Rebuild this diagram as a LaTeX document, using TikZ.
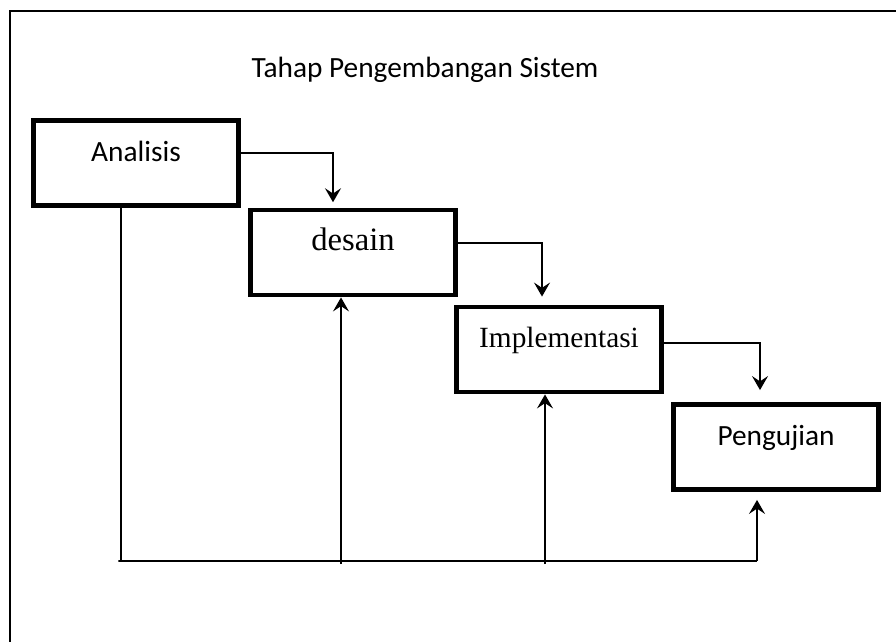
\documentclass[tikz,border=0pt]{standalone}
\usepackage{fontspec}
\setmainfont{Carlito}
\newfontfamily\timesface{Liberation Serif}
\usetikzlibrary{arrows.meta}

\begin{document}
\begin{tikzpicture}[x=0.75pt,y=-0.75pt,line cap=butt,>={Stealth[length=10.5pt,width=12pt,inset=4pt]},
	stage/.style={draw,line width=3.4pt,minimum width=154pt,minimum height=64pt,inner sep=0pt,
		text height=14pt,text depth=17pt,font=\fontsize{22}{26}\selectfont},
	flow/.style={line width=1.2pt}]
	\useasboundingbox (0,0) rectangle (896,642);
	\draw [line width=1.6pt] (10,642) -- (10,11) -- (896,11);
	
	\node [font=\fontsize{22}{26}\selectfont] (title) at (425,70) {Tahap Pengembangan Sistem};
	
	\node [stage] (analisis) at (136,163) {Analisis};
	\node [stage] (desain) at (353,252.5) {\fontsize{24.5}{28}\timesface desain};
	\node [stage] (implementasi) at (559,349.5) {\timesface Implementasi};
	\node [stage] (pengujian) at (776,447) {Pengujian};
	
	\draw [flow,->,shorten >=4pt] ([yshift=7.5pt]analisis.east) -| ([xshift=-15pt]desain.north);
	\draw [flow,->,shorten >=6pt] ([yshift=7pt]desain.east) -| ([xshift=-12.75pt]implementasi.north);
	\draw [flow,->,shorten >=9pt] ([yshift=5pt]implementasi.east) -| ([xshift=-12pt]pengujian.north);
	
	\coordinate (back1) at (121,561);
	\coordinate (back2) at (757,561);
	\coordinate (up1) at (341,564);
	\coordinate (up2) at (545,564);
	\draw [flow] (analisis.south -| back1) -- (back1) -- ([xshift=-2pt]back1) -- (back2);
	\draw [flow,->,shorten >=6pt] (back2) -- (back2 |- pengujian.south);
	\draw [flow,->] (up1) -- (up1 |- desain.south);
	\draw [flow,->] (up2) -- (up2 |- implementasi.south);
\end{tikzpicture}
\end{document}
